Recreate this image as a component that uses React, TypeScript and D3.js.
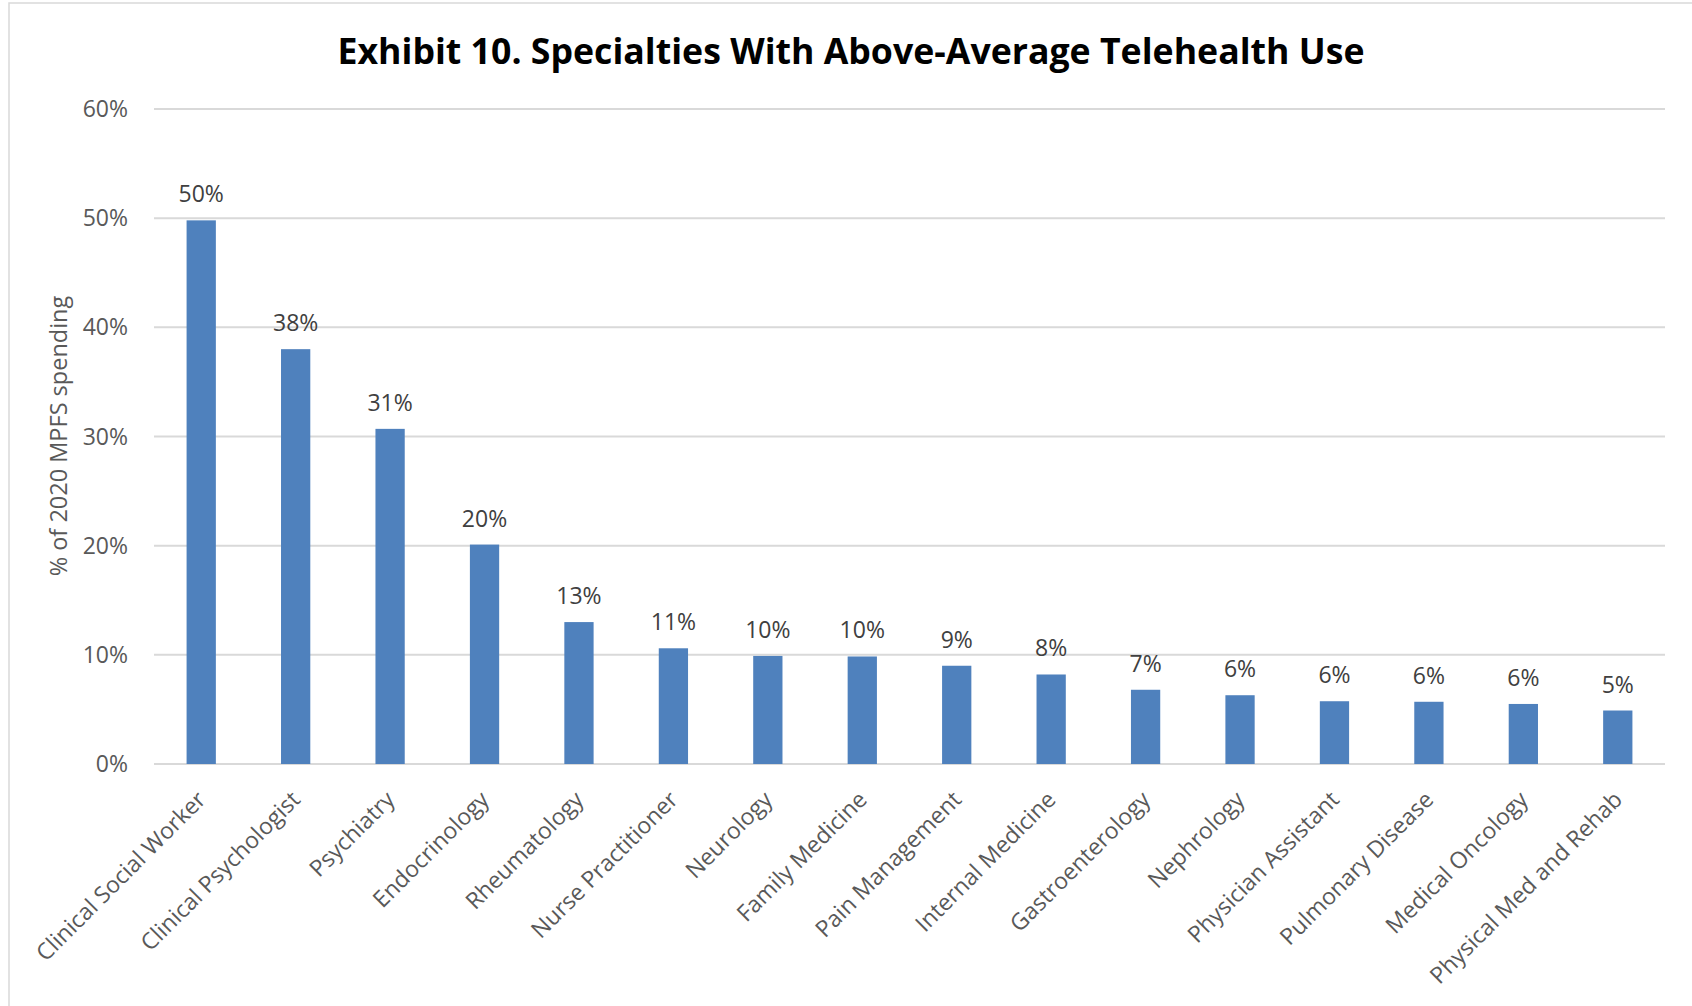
import React from "react";
import * as d3 from "d3";

const TITLE = "Exhibit 10. Specialties With Above-Average Telehealth Use";
const Y_TITLE = "% of 2020 MPFS spending";

const categories = [
  "Clinical Social Worker",
  "Clinical Psychologist",
  "Psychiatry",
  "Endocrinology",
  "Rheumatology",
  "Nurse Practitioner",
  "Neurology",
  "Family Medicine",
  "Pain Management",
  "Internal Medicine",
  "Gastroenterology",
  "Nephrology",
  "Physician Assistant",
  "Pulmonary Disease",
  "Medical Oncology",
  "Physical Med and Rehab",
];

const values = [49.8, 38.0, 30.7, 20.1, 13.0, 10.6, 9.9, 9.85, 9.0, 8.2, 6.8, 6.3, 5.75, 5.7, 5.5, 4.9];

const yTicks = [0, 10, 20, 30, 40, 50, 60];

const W = 1692;
const H = 1006;
const FONT = "'Open Sans', 'Noto Sans', sans-serif";

export default function App() {
  const x = d3
    .scaleBand<string>()
    .domain(categories)
    .range([154, 1665])
    .paddingInner(0.69)
    .paddingOuter(0.345);
  const y = d3.scaleLinear().domain([0, 60]).range([764, 109]);
  const fmt = (v: number) => `${Math.round(v)}%`;

  return (
    <svg
      width={W}
      height={H}
      style={{ position: "absolute", left: 0, top: 0, background: "#fff" }}
      fontFamily={FONT}
    >
      <rect x={9} y={3} width={W + 10} height={H + 10} fill="#fff" stroke="#d9d9d9" strokeWidth={1.5} />
      <text
        x={851}
        y={64}
        textAnchor="middle"
        fontSize={35}
        fontWeight={700}
        fill="#000"
        textLength={1027}
        lengthAdjust="spacingAndGlyphs"
      >
        {TITLE}
      </text>
      {yTicks.map((t) => (
        <g key={t}>
          <line x1={154} x2={1665} y1={y(t)} y2={y(t)} stroke="#d9d9d9" strokeWidth={2} />
          <text x={128} y={y(t) + 8} textAnchor="end" fontSize={23} fill="#595959">
            {`${t}%`}
          </text>
        </g>
      ))}
      <text
        transform={`translate(${67},${436}) rotate(-90)`}
        textAnchor="middle"
        fontSize={23.5}
        fill="#595959"
      >
        {Y_TITLE}
      </text>
      {categories.map((c, i) => {
        const bx = x(c) as number;
        const cx = bx + x.bandwidth() / 2;
        const v = values[i];
        return (
          <g key={c}>
            <rect x={bx} y={y(v)} width={x.bandwidth()} height={y(0) - y(v)} fill="#4f81bd" />
            <text x={cx} y={y(v) - 18} textAnchor="middle" fontSize={23} fill="#404040">
              {fmt(v)}
            </text>
            <text
              transform={`translate(${cx + 6},${y(0) + 37}) rotate(-45)`}
              textAnchor="end"
              fontSize={23}
              fill="#595959"
            >
              {c}
            </text>
          </g>
        );
      })}
    </svg>
  );
}
